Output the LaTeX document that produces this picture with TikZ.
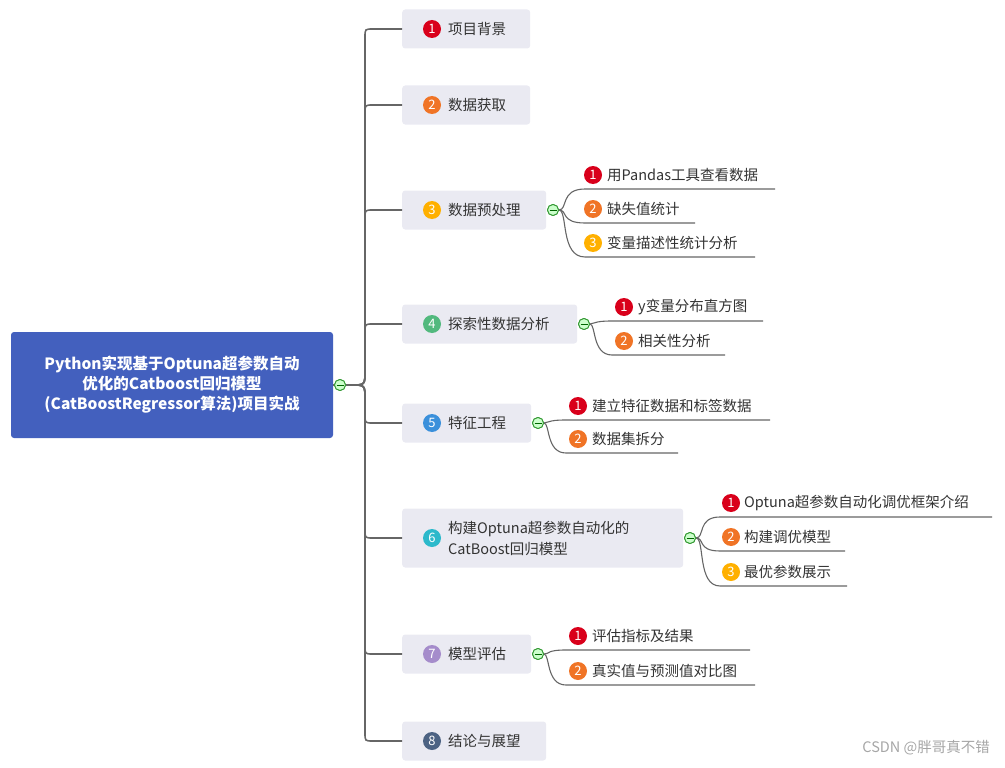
\documentclass[tikz,border=0pt]{standalone}
\usepackage{fontspec}
\setmainfont{Noto Sans CJK SC}
\begin{document}
\begin{tikzpicture}[x=1pt,y=-1pt,
  main/.style={fill=boxbg,rounded corners=3pt,anchor=west,minimum height=39pt,font=\fontsize{14}{17}\selectfont,text=txt,inner sep=0pt},
  num/.style={circle,fill=#1,text=white,minimum size=18pt,inner sep=0pt,font=\fontsize{13}{13}\selectfont},
  ctext/.style={anchor=west,font=\fontsize{14.5}{16}\selectfont,text=txt,inner sep=0pt},
  tog/.style={circle,draw=green!50!black!80,fill=green!20,minimum size=11pt,inner sep=0pt,line width=0.9pt,path picture={\draw[green!40!black,line width=0.9pt] ([xshift=-3.5pt]path picture bounding box.center)--([xshift=3.5pt]path picture bounding box.center);}},
  ln/.style={draw=gray!80!black,line width=1.1pt},
  sp/.style={draw=gray!80!black,line width=2.4pt}]
\definecolor{boxbg}{HTML}{EAEAF2}
\definecolor{txt}{HTML}{333333}
\definecolor{c1}{HTML}{D9001B}
\definecolor{c2}{HTML}{F07426}
\definecolor{c3}{HTML}{FFB000}
\definecolor{c4}{HTML}{52B97E}
\definecolor{c5}{HTML}{3B90DB}
\definecolor{c6}{HTML}{2CB9CB}
\definecolor{c7}{HTML}{A58CCB}
\definecolor{c8}{HTML}{4D6383}
\definecolor{rootc}{HTML}{4360BE}
\useasboundingbox (0,0) rectangle (1005,768);

% root
\node[fill=rootc,rounded corners=3pt,minimum width=322pt,minimum height=106pt,text=white,align=center,font=\fontsize{15.5}{20}\selectfont\bfseries] (root) at (172,385) {Python实现基于Optuna超参数自动\\优化的Catboost回归模型\\(CatBoostRegressor算法)项目实战};

% main nodes
\foreach \i/\y/\w/\t in {1/29/128/项目背景,2/105/128/数据获取,3/210/144/数据预处理,4/324/175/探索性数据分析,5/423/129/特征工程,7/654/129/模型评估,8/741/144/结论与展望}{
  \node[main,minimum width=\w pt] (m\i) at (402,\y) {};
  \node[num=c\i] (n\i) at (432,\y) {\i};
  \node[ctext] (t\i) at (448,\y) {\t};
}
\node[main,minimum width=281pt,minimum height=59pt] (m6) at (402,538) {};
\node[num=c6] (n6) at (432,538) {6};
\node[ctext,align=left,font=\fontsize{14.5}{21}\selectfont] (t6) at (448,538) {构建Optuna超参数自动化的\\CatBoost回归模型};

% spine
\foreach \y in {29,105,210,324}{
  \draw[sp,line width=1.6pt] (352,385) .. controls (365,385) .. (365,370) -- (365,\y+8) .. controls (365,\y) .. (373,\y) -- (402,\y);
}
\foreach \y in {423,538,654,741}{
  \draw[sp,line width=1.6pt] (352,385) .. controls (365,385) .. (365,400) -- (365,\y-8) .. controls (365,\y) .. (373,\y) -- (402,\y);
}
\draw[sp] (root.east) -- (352,385);
\node[tog] (rt) at (340,385) {};

% branch 3
\node[tog] (g3) at (553,210) {};
\foreach \k/\y/\e/\t in {1/175/775/用Pandas工具查看数据,2/209/695/缺失值统计,3/243/755/变量描述性统计分析}{
  \node[num=c\k] (a\k) at (593,\y) {\k};
  \node[ctext] (at\k) at (607,\y) {\t};
  \coordinate (ae\k) at (\e,\y+14);
  \draw[ln] (g3) .. controls (568,210) and (560,\y+14) .. (585,\y+14) -- (ae\k);
}
% branch 4
\node[tog] (g4) at (584,324) {};
\foreach \k/\y/\e/\t in {1/307/763/y变量分布直方图,2/341/725/相关性分析}{
  \node[num=c\k] (b\k) at (624,\y) {\k};
  \node[ctext] (bt\k) at (638,\y) {\t};
  \coordinate (be\k) at (\e,\y+14);
  \draw[ln] (g4) .. controls (596,324) and (592,\y+14) .. (612,\y+14) -- (be\k);
}
% branch 5
\node[tog] (g5) at (538,423) {};
\foreach \k/\y/\e/\t in {1/406/770/建立特征数据和标签数据,2/439/678/数据集拆分}{
  \node[num=c\k] (c\k) at (578,\y) {\k};
  \node[ctext] (ct\k) at (592,\y) {\t};
  \coordinate (ce\k) at (\e,\y+14);
  \draw[ln] (g5) .. controls (550,423) and (546,\y+14) .. (566,\y+14) -- (ce\k);
}
% branch 6
\node[tog] (g6) at (690,538) {};
\foreach \k/\y/\e/\t in {1/503/992/Optuna超参数自动化调优框架介绍,2/537/845/构建调优模型,3/572/847/最优参数展示}{
  \node[num=c\k] (d\k) at (731,\y) {\k};
  \node[ctext] (dt\k) at (744,\y) {\t};
  \coordinate (de\k) at (\e,\y+14);
  \draw[ln] (g6) .. controls (705,538) and (697,\y+14) .. (720,\y+14) -- (de\k);
}
% branch 7
\node[tog] (g7) at (538,654) {};
\foreach \k/\y/\e/\t in {1/636/750/评估指标及结果,2/671/755/真实值与预测值对比图}{
  \node[num=c\k] (e\k) at (578,\y) {\k};
  \node[ctext] (et\k) at (592,\y) {\t};
  \coordinate (ee\k) at (\e,\y+14);
  \draw[ln] (g7) .. controls (550,654) and (546,\y+14) .. (566,\y+14) -- (ee\k);
}
\foreach \g in {g3,g4,g5,g6,g7,rt}{\node[tog] at (\g) {};}

\node[anchor=east,text=gray!70,font=\fontsize{14.5}{14}\selectfont,inner sep=0pt] (wm) at (990,748) {CSDN @胖哥真不错};
\end{tikzpicture}
\end{document}
